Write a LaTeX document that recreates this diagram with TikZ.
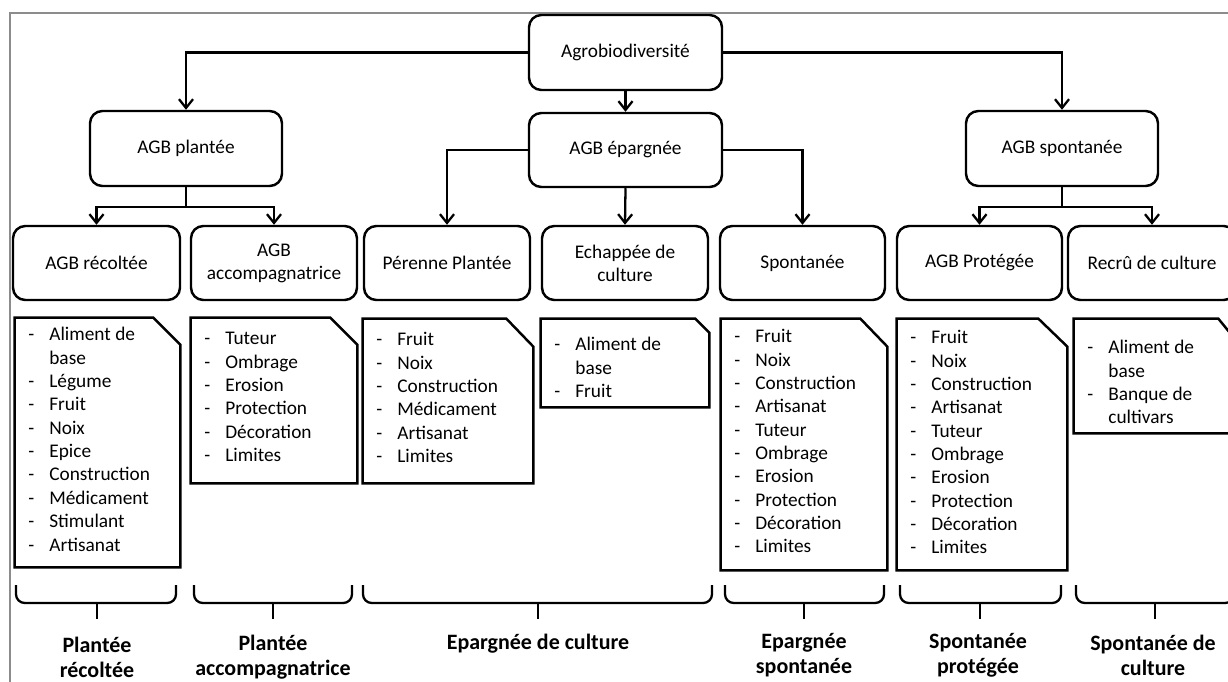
\documentclass[tikz,border=0pt]{standalone}
\usepackage{fontspec}
\setmainfont{Carlito}
\usepackage{tikz}
\usetikzlibrary{arrows.meta}
\newlength\pxu
\setlength\pxu{0.02cm}
\pgfdeclarelayer{lignes}
\pgfsetlayers{lignes,main}
\tikzstyle{none}=[inner sep=0pt]
\tikzstyle{categorie}=[draw=black,fill=white,line width=1.4pt,rounded corners=7pt,align=center,font=\fontsize{11}{13}\selectfont,inner sep=2pt,minimum height=74\pxu]
\tikzstyle{fiche}=[inner sep=0pt]
\tikzstyle{contour}=[draw=black,fill=white,line width=1.4pt]
\tikzstyle{liste}=[inner sep=0pt,anchor=north west,align=left,font=\fontsize{11}{13.3}\selectfont]
\tikzstyle{line}=[draw,line width=1.3pt,-{Straight Barb[length=5pt,width=8pt]}]
\tikzstyle{accolade}=[draw,line width=1.3pt,rounded corners=5pt]
\tikzstyle{bilan}=[align=center,font=\fontsize{12.5}{14.3}\selectfont\bfseries]
\tikzstyle{cadre}=[draw=black!45,line width=1.2pt]
\newcommand{\tiret}[1]{\makebox[21\pxu][l]{-}#1}
\newcommand{\suite}[1]{\hspace*{21\pxu}#1}
\begin{document}
\begin{tikzpicture}[x=0.02cm,y=-0.02cm]
		\useasboundingbox (0,0) rectangle (1228,681);
		\draw [style=cadre] (10,700) |- (1260,13);
		% niveaux 1 et 2
		\node [style=categorie,minimum width=193\pxu,minimum height=75\pxu] (agro) at (625.5,52.5) {Agrobiodiversité};
		\node [style=categorie,minimum width=192\pxu,minimum height=75\pxu] (plantee) at (186,148.5) {AGB plantée};
		\node [style=categorie,minimum width=193\pxu] (epargnee) at (625.5,150) {AGB épargnée};
		\node [style=categorie,minimum width=192\pxu,minimum height=75\pxu] (spontanee) at (1062,148.5) {AGB spontanée};
		% niveau 3
		\node [style=categorie,minimum width=167\pxu] (recoltee) at (96.5,263) {AGB récoltée};
		\node [style=categorie,minimum width=166\pxu] (accomp) at (274,263) {AGB\\accompagnatrice};
		\node [style=categorie,minimum width=166\pxu] (perenne) at (447,263) {Pérenne Plantée};
		\node [style=categorie,minimum width=166\pxu] (echappee) at (625,263) {Echappée de\\culture};
		\node [style=categorie,minimum width=165\pxu] (spontan) at (802.5,263) {Spontanée};
		\node [style=categorie,minimum width=165\pxu] (protegee) at (979.5,263) {AGB Protégée};
		\node [style=categorie,minimum width=168\pxu] (recru) at (1152,263) {Recrû de culture};
		\coordinate (bp) at (186,207);
		\coordinate (bs) at (1062,207);
		% fiches
		\node [style=fiche,minimum width=165\pxu,minimum height=249\pxu] (recolteeF) at (97.5,442.5) {};
		\node [style=fiche,minimum width=166\pxu,minimum height=165\pxu] (accompF) at (274,400.5) {};
		\node [style=fiche,minimum width=170\pxu,minimum height=164\pxu] (perenneF) at (448,401) {};
		\node [style=fiche,minimum width=168\pxu,minimum height=88\pxu] (echappeeF) at (625,363) {};
		\node [style=fiche,minimum width=166\pxu,minimum height=251\pxu] (spontanF) at (804,444.5) {};
		\node [style=fiche,minimum width=170\pxu,minimum height=251\pxu] (protegeeF) at (982,444.5) {};
		\node [style=fiche,minimum width=166\pxu,minimum height=114\pxu] (recruF) at (1157,376) {};
		\draw [style=contour] (recolteeF.north west) -- ([xshift=-27\pxu]recolteeF.north east) -- ([yshift=-27\pxu]recolteeF.north east) -- (recolteeF.south east) -- (recolteeF.south west) -- cycle;
		\draw [style=contour] (accompF.north west) -- ([xshift=-27\pxu]accompF.north east) -- ([yshift=-27\pxu]accompF.north east) -- (accompF.south east) -- (accompF.south west) -- cycle;
		\draw [style=contour] (perenneF.north west) -- ([xshift=-27\pxu]perenneF.north east) -- ([yshift=-28\pxu]perenneF.north east) -- (perenneF.south east) -- (perenneF.south west) -- cycle;
		\draw [style=contour] (echappeeF.north west) -- ([xshift=-14\pxu]echappeeF.north east) -- ([yshift=-14\pxu]echappeeF.north east) -- (echappeeF.south east) -- (echappeeF.south west) -- cycle;
		\draw [style=contour] (spontanF.north west) -- ([xshift=-27\pxu]spontanF.north east) -- ([yshift=-28\pxu]spontanF.north east) -- (spontanF.south east) -- (spontanF.south west) -- cycle;
		\draw [style=contour] (protegeeF.north west) -- ([xshift=-29\pxu]protegeeF.north east) -- ([yshift=-28\pxu]protegeeF.north east) -- (protegeeF.south east) -- (protegeeF.south west) -- cycle;
		\draw [style=contour] (recruF.north west) -- ([xshift=-22\pxu]recruF.north east) -- ([yshift=-27\pxu]recruF.north east) -- (recruF.south east) -- (recruF.south west) -- cycle;
		\node [style=liste] (recolteeL) at (28,327) {\tiret{Aliment de}\\\suite{base}\\\tiret{Légume}\\\tiret{Fruit}\\\tiret{Noix}\\\tiret{Epice}\\\tiret{Construction}\\\tiret{Médicament}\\\tiret{Stimulant}\\\tiret{Artisanat}};
		\node [style=liste] (accompL) at (204,332) {\tiret{Tuteur}\\\tiret{Ombrage}\\\tiret{Erosion}\\\tiret{Protection}\\\tiret{Décoration}\\\tiret{Limites}};
		\node [style=liste] (perenneL) at (376,332) {\tiret{Fruit}\\\tiret{Noix}\\\tiret{Construction}\\\tiret{Médicament}\\\tiret{Artisanat}\\\tiret{Limites}};
		\node [style=liste] (echappeeL) at (554,337) {\tiret{Aliment de}\\\suite{base}\\\tiret{Fruit}};
		\node [style=liste] (spontanL) at (734,329) {\tiret{Fruit}\\\tiret{Noix}\\\tiret{Construction}\\\tiret{Artisanat}\\\tiret{Tuteur}\\\tiret{Ombrage}\\\tiret{Erosion}\\\tiret{Protection}\\\tiret{Décoration}\\\tiret{Limites}};
		\node [style=liste] (protegeeL) at (910,330) {\tiret{Fruit}\\\tiret{Noix}\\\tiret{Construction}\\\tiret{Artisanat}\\\tiret{Tuteur}\\\tiret{Ombrage}\\\tiret{Erosion}\\\tiret{Protection}\\\tiret{Décoration}\\\tiret{Limites}};
		\node [style=liste] (recruL) at (1087,340) {\tiret{Aliment de}\\\suite{base}\\\tiret{Banque de}\\\suite{cultivars}};
		% accolades et bilans
		\draw [style=accolade] (16,585) |- (97,603) -| (176,585);
		\draw [style=accolade] (97,603) -- (97,619);
		\draw [style=accolade] (194,585) |- (273,603) -| (352,585);
		\draw [style=accolade] (273,603) -- (273,619);
		\draw [style=accolade] (363,585) |- (538,603) -| (712,585);
		\draw [style=accolade] (538,603) -- (538,619);
		\draw [style=accolade] (725,585) |- (804,603) -| (884,585);
		\draw [style=accolade] (804,603) -- (804,619);
		\draw [style=accolade] (900,585) |- (980,603) -| (1061,585);
		\draw [style=accolade] (980,603) -- (980,619);
		\draw [style=accolade] (1076,585) |- (1155,603) -| (1234,585);
		\draw [style=accolade] (1155,603) -- (1155,619);
		\node [style=bilan] (bilan1) at (97,657) {Plantée\\récoltée};
		\node [style=bilan] (bilan2) at (273,657) {Plantée\\accompagnatrice};
		\node [style=bilan] (bilan3) at (538,644) {Epargnée de culture};
		\node [style=bilan] (bilan4) at (804,655) {Epargnée\\spontanée};
		\node [style=bilan] (bilan5) at (978,655) {Spontanée\\protégée};
		\node [style=bilan] (bilan6) at (1153,655) {Spontanée de\\culture};
		\begin{pgfonlayer}{lignes}
			\path [style=line] (agro.west) -| (plantee.north);
			\path [style=line] (agro.east) -| (spontanee.north);
			\path [style=line] (agro.south) -- (epargnee.north);
			\path [style=line] (plantee.south) -- (bp) -| (recoltee.north);
			\path [style=line] (bp) -| (accomp.north);
			\path [style=line] (epargnee.west) -| (perenne.north);
			\path [style=line] (epargnee.south) -- (echappee.north);
			\path [style=line] (epargnee.east) -| (spontan.north);
			\path [style=line] (spontanee.south) -- (bs) -| (protegee.north);
			\path [style=line] (bs) -| (recru.north);
		\end{pgfonlayer}
\end{tikzpicture}
\end{document}
